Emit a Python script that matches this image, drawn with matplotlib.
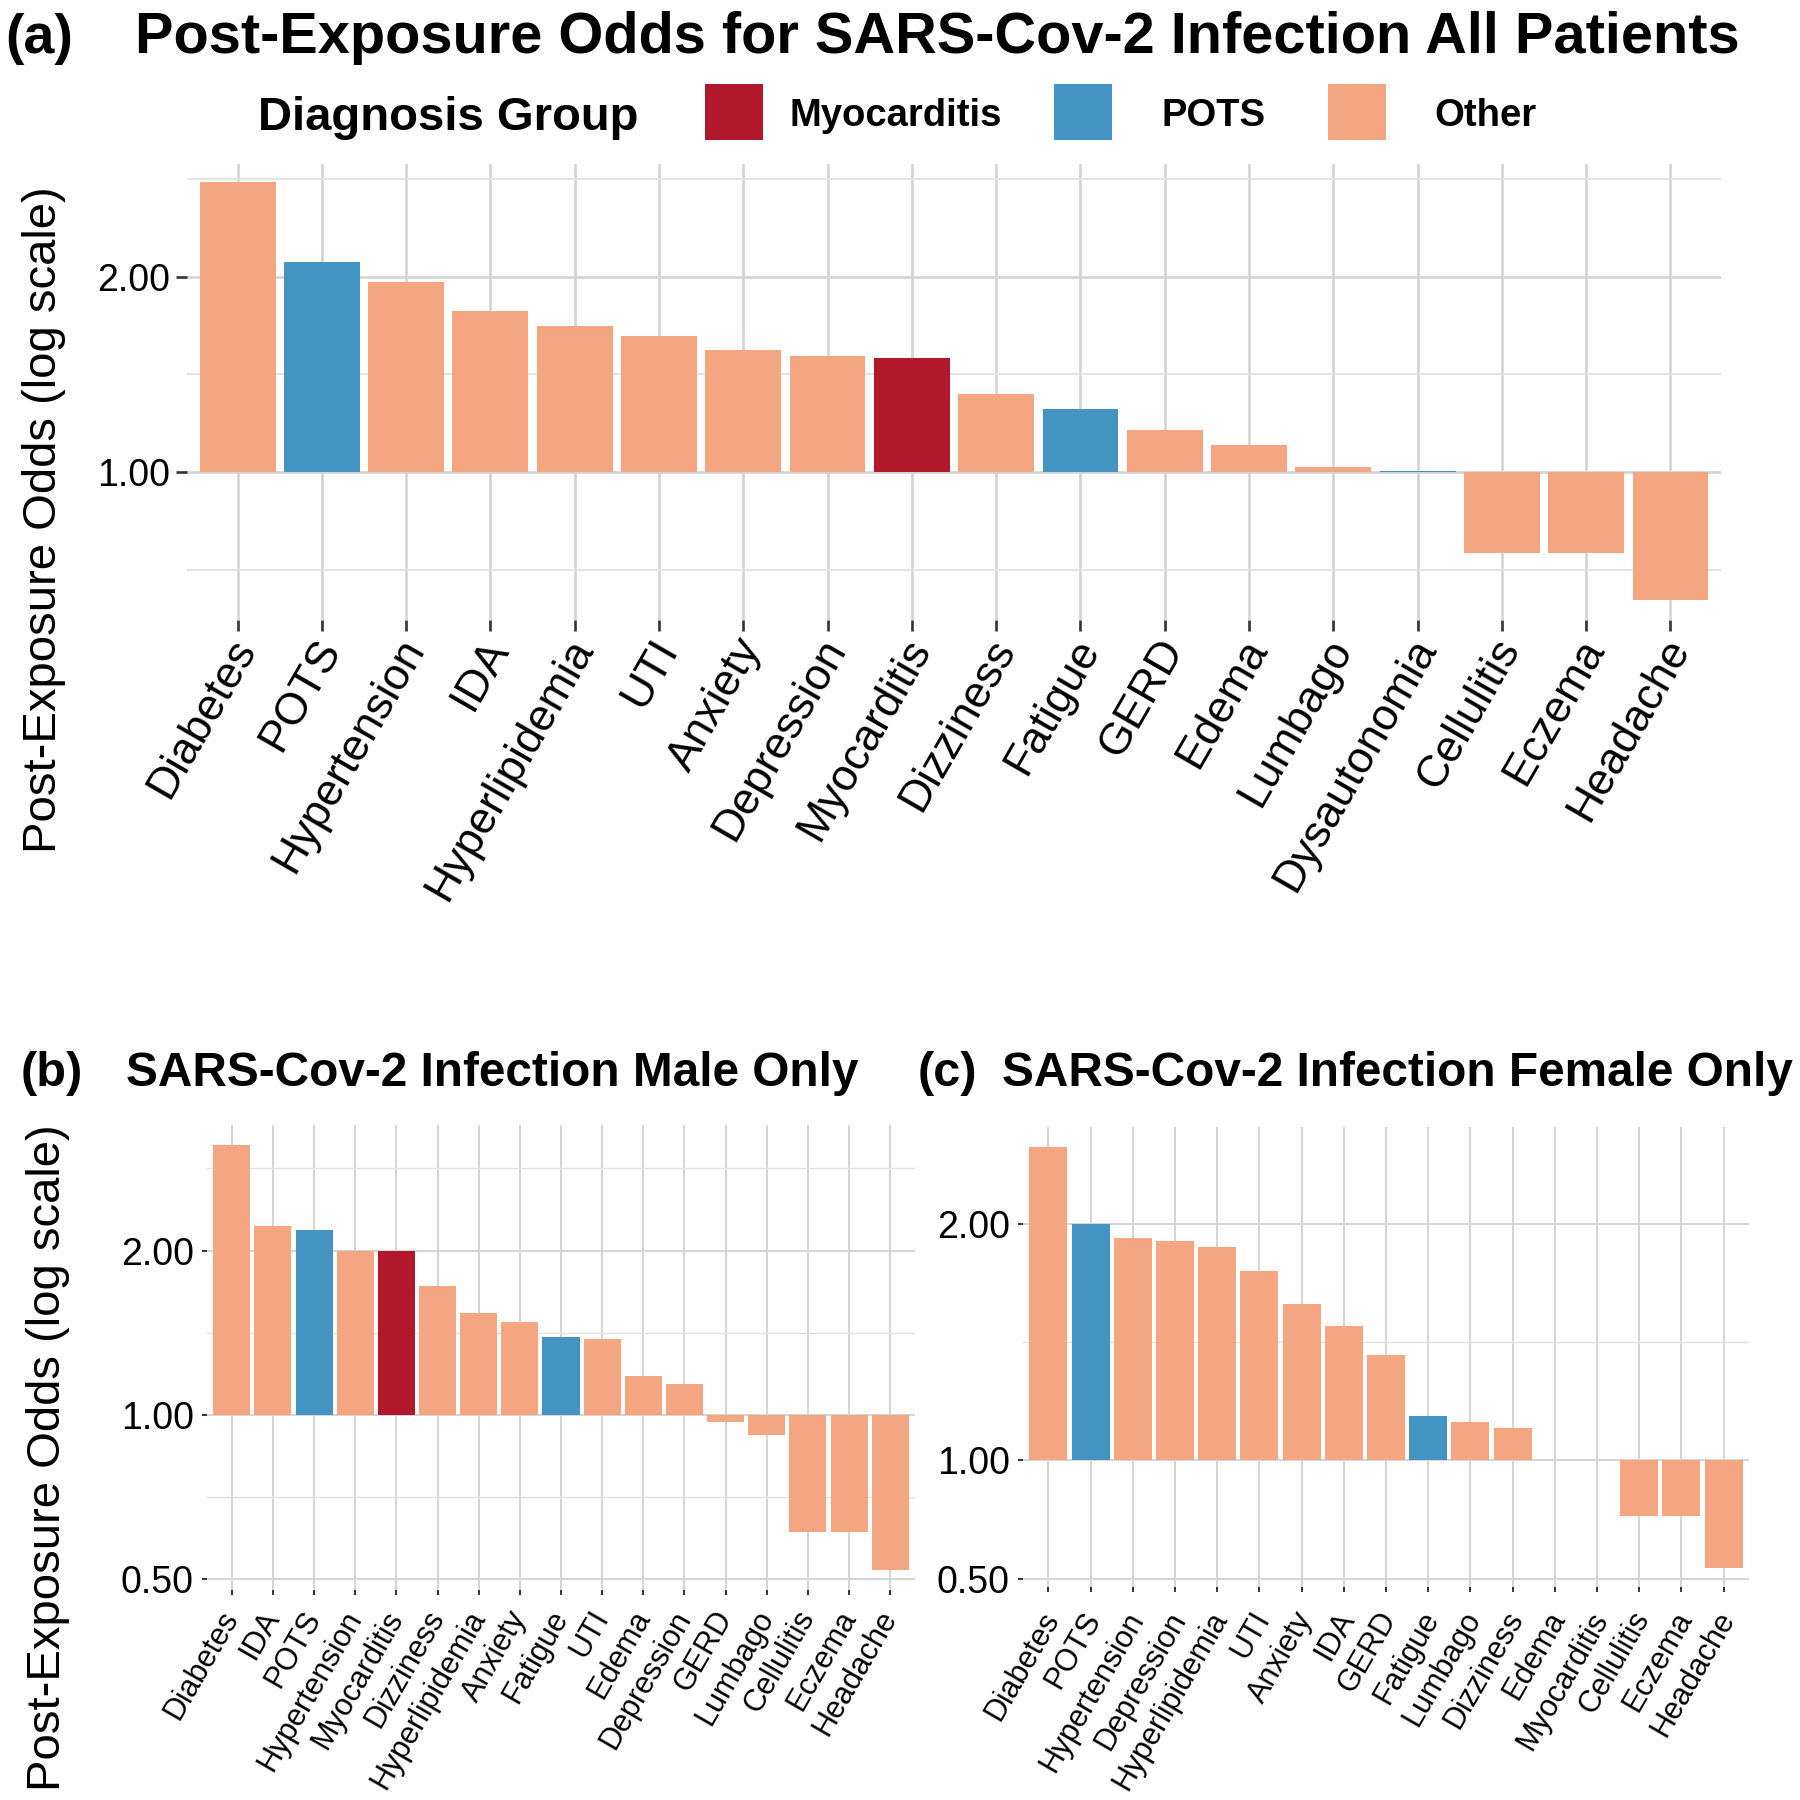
import numpy as np
import matplotlib
matplotlib.use("Agg")
import matplotlib.pyplot as plt
from matplotlib.patches import Rectangle
from matplotlib.ticker import NullFormatter
from matplotlib.transforms import ScaledTranslation

plt.rcParams['font.family'] = ['Liberation Sans', 'DejaVu Sans']

W, H = 1800, 1800

group_names = ['Myocarditis', 'POTS', 'Other']
group_colors = ['#B2182B', '#4393C3', '#F4A582']

# (a) all patients
all_labels = ['Diabetes', 'POTS', 'Hypertension', 'IDA', 'Hyperlipidemia', 'UTI', 'Anxiety',
              'Depression', 'Myocarditis', 'Dizziness', 'Fatigue', 'GERD', 'Edema', 'Lumbago',
              'Dysautonomia', 'Cellulitis', 'Eczema', 'Headache']
all_odds = [2.80, 2.11, 1.965, 1.77, 1.68, 1.62, 1.54, 1.51, 1.50, 1.32, 1.25, 1.16, 1.10,
            1.02, 1.005, 0.75, 0.75, 0.636]
all_groups = ['Other', 'POTS', 'Other', 'Other', 'Other', 'Other', 'Other', 'Other',
              'Myocarditis', 'Other', 'POTS', 'Other', 'Other', 'Other', 'POTS', 'Other',
              'Other', 'Other']

# (b) male only
male_labels = ['Diabetes', 'IDA', 'POTS', 'Hypertension', 'Myocarditis', 'Dizziness',
               'Hyperlipidemia', 'Anxiety', 'Fatigue', 'UTI', 'Edema', 'Depression', 'GERD',
               'Lumbago', 'Cellulitis', 'Eczema', 'Headache']
male_odds = [3.12, 2.22, 2.18, 2.00, 2.00, 1.72, 1.54, 1.48, 1.39, 1.38, 1.18, 1.14, 0.97,
             0.92, 0.61, 0.61, 0.52]
male_groups = ['Other', 'Other', 'POTS', 'Other', 'Myocarditis', 'Other', 'Other', 'Other',
               'POTS', 'Other', 'Other', 'Other', 'Other', 'Other', 'Other', 'Other', 'Other']

# (c) female only
female_labels = ['Diabetes', 'POTS', 'Hypertension', 'Depression', 'Hyperlipidemia', 'UTI',
                 'Anxiety', 'IDA', 'GERD', 'Fatigue', 'Lumbago', 'Dizziness', 'Edema',
                 'Myocarditis', 'Cellulitis', 'Eczema', 'Headache']
female_odds = [2.50, 2.00, 1.92, 1.90, 1.87, 1.74, 1.58, 1.48, 1.36, 1.14, 1.12, 1.10, 1.00,
               1.00, 0.85, 0.85, 0.73]
female_groups = ['Other', 'POTS', 'Other', 'Other', 'Other', 'Other', 'Other', 'Other', 'Other',
                 'POTS', 'Other', 'Other', 'Other', 'Myocarditis', 'Other', 'Other', 'Other']

color_of = dict(zip(group_names, group_colors))

fig = plt.figure(figsize=(18, 18), dpi=100)


def px_axes(l, t, r, b):
    return fig.add_axes([l / W, 1 - b / H, (r - l) / W, (b - t) / H])


def draw_panel(box, labels, odds, groups, ylims, major, major_labels, minor,
               xsize, lw, tick_len, xshift, ypad):
    ax = px_axes(*box)
    ax.set_yscale('log', base=2)
    x = np.arange(len(labels))
    odds = np.asarray(odds)
    ax.bar(x, odds - 1, bottom=1, width=0.9, color=[color_of[g] for g in groups],
           linewidth=0, zorder=2)
    ax.set_xlim(-0.6, len(labels) - 0.4)
    ax.set_ylim(2 ** ylims[0], 2 ** ylims[1])
    ax.set_xticks(x)
    ax.set_xticklabels(labels, rotation=60, ha='right', va='center',
                       rotation_mode='anchor', fontsize=xsize)
    ax.set_yticks(major)
    ax.set_yticklabels(major_labels, fontsize=27)
    ax.set_yticks(minor, minor=True)
    ax.yaxis.set_minor_formatter(NullFormatter())
    ax.tick_params(axis='y', which='minor', length=0)
    ax.tick_params(axis='both', which='major', length=tick_len, width=lw, color='#333333')
    ax.tick_params(axis='x', pad=20)
    ax.tick_params(axis='y', pad=ypad)
    # nudge the rotated labels (dx, dy in pixels), after tick_params
    off = ScaledTranslation(xshift[0] / 100, xshift[1] / 100, fig.dpi_scale_trans)
    for lab in ax.get_xticklabels():
        lab.set_transform(lab.get_transform() + off)
    ax.grid(which='major', color='#D4D4D4', linewidth=lw)
    ax.grid(which='minor', axis='y', color='#E2E2E2', linewidth=lw * 0.7)
    ax.set_axisbelow(True)
    for s in ax.spines.values():
        s.set_visible(False)
    return ax


draw_panel((187, 164, 1721, 620), all_labels, all_odds, all_groups, (-0.755, 1.576),
           [1, 2], ['1.00', '2.00'], [2 ** -0.5, 2 ** 0.5, 2 ** 1.5],
           32, 1.9, 8, (9, 17), 4.5)
draw_panel((207, 1125, 915, 1590), male_labels, male_odds, male_groups, (-1.064, 1.763),
           [0.5, 1, 2], ['0.50', '1.00', '2.00'], [2 ** -0.5, 2 ** 0.5, 2 ** 1.5],
           22, 1.4, 3.6, (0, 10), 6)
# panel (c) as printed: its lowest labelled line sits at 2^-0.5
draw_panel((1023, 1127, 1749, 1587), female_labels, female_odds, female_groups,
           (-0.535, 1.408), [2 ** -0.5, 1, 2], ['0.50', '1.00', '2.00'], [2 ** 0.5],
           22, 1.4, 3.6, (4, 6), 6)

# titles
fig.text(5 / W, 1 - 53 / H, '(a)', fontsize=40, fontweight='bold', va='baseline')
fig.text(135 / W, 1 - 53 / H, 'Post-Exposure Odds for SARS-Cov-2 Infection All Patients',
         fontsize=41.6, fontweight='bold', va='baseline')
fig.text(21 / W, 1 - 1086 / H, '(b)', fontsize=35, fontweight='bold', va='baseline')
fig.text(126 / W, 1 - 1086 / H, 'SARS-Cov-2 Infection Male Only',
         fontsize=34.4, fontweight='bold', va='baseline')
fig.text(918 / W, 1 - 1086 / H, '(c)', fontsize=35, fontweight='bold', va='baseline')
fig.text(1002 / W, 1 - 1086 / H, 'SARS-Cov-2 Infection Female Only',
         fontsize=34.4, fontweight='bold', va='baseline')

# y axis titles
fig.text(44 / W, 1 - 520 / H, 'Post-Exposure Odds (log scale)', fontsize=34,
         rotation=90, ha='center', va='center')
fig.text(48 / W, 1 - 1458 / H, 'Post-Exposure Odds (log scale)', fontsize=34,
         rotation=90, ha='center', va='center')

# legend
fig.text(258 / W, 1 - 130 / H, 'Diagnosis Group', fontsize=34, fontweight='bold',
         va='baseline')
key_x = [705, 1054, 1328]
text_x = [790, 1162, 1434]
for name, col, kx, tx in zip(group_names, group_colors, key_x, text_x):
    fig.add_artist(Rectangle((kx / W, 1 - 140 / H), 58 / W, 56 / H,
                             transform=fig.transFigure, facecolor=col, edgecolor='none'))
    fig.text(tx / W, 1 - 126 / H, name, fontsize=27.5, fontweight='bold',
             va='baseline')

fig.savefig('out.png', dpi=100)
